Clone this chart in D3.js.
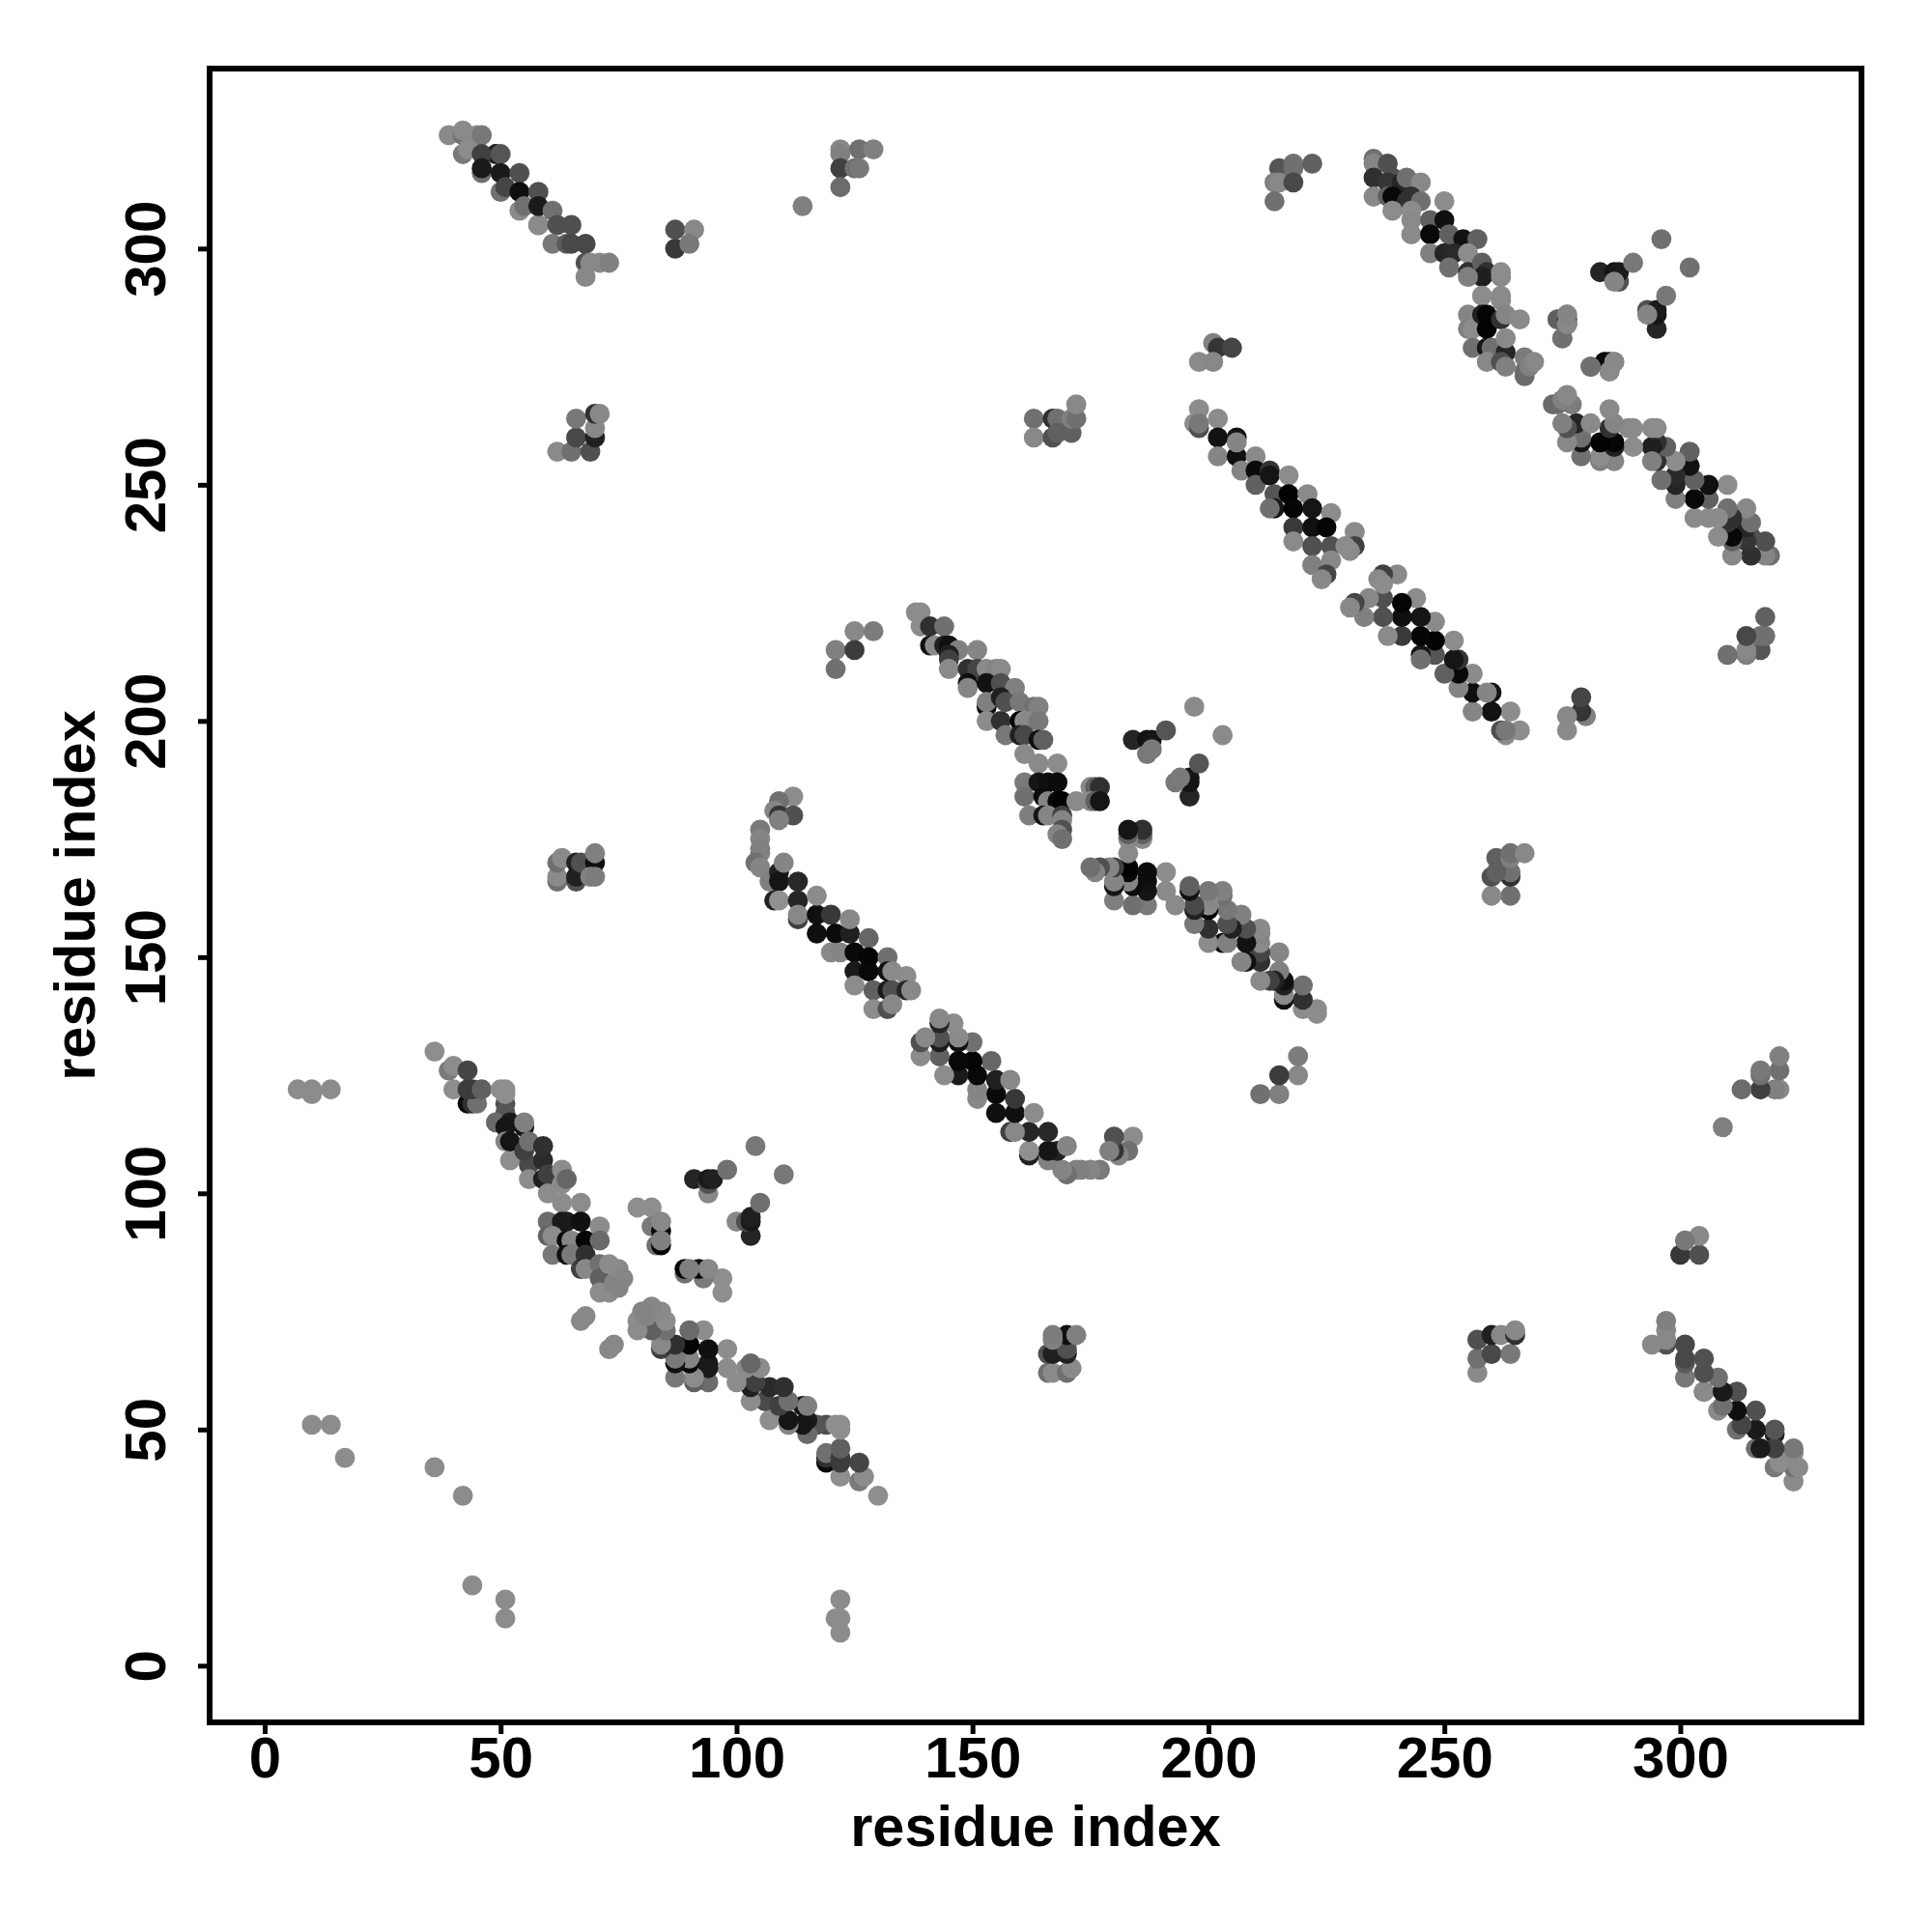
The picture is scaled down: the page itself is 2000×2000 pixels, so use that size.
<!DOCTYPE html>
<html><head><meta charset="utf-8">
<script src="https://cdn.jsdelivr.net/npm/d3@7"></script>
<style>html,body{margin:0;padding:0;background:#fff}svg{display:block}</style>
</head><body><div id="chart"></div>
<script>
// residue i, residue j (i<j), contact shade (grey level, 0x00 strongest)
const strandA=[[36,130,0x8e],[39,126,0x7a],[40,127,0x8c],[43,126,0x45],[40,122,0x8e],[43,119,0x0a],[44,119,0x30],[45,119,0x70],[43,122,0x3c],[44,122,0x3c],[46,122,0x60],[51,119,0x50],[51,117,0x55],[49,115,0x6a],[52,115,0x1a],[51,114,0x15],[55,114,0x15],[55,115,0x80],[50,122,0x8e],[51,122,0x8e],[51,121,0x8e],[52,107,0x8e],[51,111,0x85],[52,111,0x15],[56,106,0x4a],[59,107,0x2a],[55,109,0x40],[56,111,0x70],[59,110,0x30],[56,103,0x8c],[59,103,0x1f],[60,104,0x40],[63,105,0x8c],[63,102,0x8a],[64,103,0x66],[60,100,0x8c],[63,98,0x8c],[67,98,0x8c],[60,94,0x6c],[63,94,0x1a],[64,94,0x1a],[67,94,0x10],[71,93,0x8c],[60,91,0x60],[61,91,0x8c],[64,90,0x08],[65,90,0x85],[68,90,0x05],[71,90,0x6a],[61,87,0x78],[64,87,0x10],[65,87,0x7a],[68,87,0x30],[67,84,0x40],[68,85,0x30],[68,84,0x88],[71,85,0x70],[71,82,0x60],[71,79,0x8c],[73,85,0x8c],[73,79,0x8c],[74,81,0x84],[75,84,0x8a],[76,82,0x86],[75,80,0x84],[67,73,0x88],[68,74,0x88]];
const crossA=[[79,97,0x8e],[82,97,0x8e],[82,93,0x7a],[84,92,0x08],[84,94,0x88],[83,89,0x70],[84,89,0x05],[84,90,0x80],[91,103,0x25],[94,100,0x88],[94,102,0x50],[94,103,0x1a],[95,103,0x20],[98,105,0x70],[104,110,0x78]];
const strandB=[[112,184,0x8c],[109,183,0x70],[108,181,0x85],[109,180,0x35],[112,180,0x50],[109,179,0x80],[105,177,0x7a],[105,175,0x85],[105,173,0x80],[105,172,0x80],[104,170,0x70],[105,169,0x85],[107,166,0x80],[109,168,0x20],[109,166,0x15],[113,166,0x28],[110,170,0x85],[108,162,0x20],[109,162,0x90],[113,162,0x25],[113,158,0x40],[113,159,0x88],[117,159,0x10],[117,155,0x10],[117,163,0x8c],[120,159,0x38],[121,155,0x0a],[124,155,0x20],[124,158,0x88],[120,151,0x88],[122,151,0x85],[125,151,0x08],[128,154,0x66],[128,150,0x05],[125,147,0x1a],[128,147,0x08],[132,150,0x70],[132,147,0x10],[133,147,0x8a],[136,146,0x8c],[125,144,0x8c],[129,143,0x60],[132,143,0x1a],[133,143,0x50],[136,143,0x25],[137,143,0x88],[129,139,0x8c],[132,139,0x50],[133,140,0x88]];
const strandC=[[138,223,0x8c],[139,223,0x8c],[139,220,0x8c],[141,220,0x30],[144,220,0x70],[141,216,0x10],[142,216,0x8a],[144,216,0x20],[145,216,0x10],[147,215,0x80],[151,215,0x85],[145,214,0x20],[145,213,0x40],[145,211,0x8a],[149,211,0x30],[151,211,0x45],[153,211,0x8a],[155,211,0x85],[156,211,0x8a],[149,208,0x10],[149,207,0x85],[153,208,0x12],[156,208,0x50],[159,207,0x80],[153,203,0x0a],[153,204,0x80],[156,205,0x20],[157,204,0x50],[160,204,0x78],[163,203,0x70],[164,203,0x80],[153,200,0x8c],[156,200,0x30],[160,200,0x05],[161,200,0x8c],[162,200,0x88],[164,200,0x78],[157,197,0x78],[160,197,0x20],[161,197,0x48],[164,196,0x10],[165,196,0x60],[161,193,0x8a],[164,191,0x8a],[168,191,0x8c],[161,187,0x7a],[161,184,0x70],[164,187,0x15],[166,187,0x10],[168,187,0x0c],[165,184,0x0c],[166,183,0x85],[168,183,0x0a],[169,183,0x02],[172,183,0x8a],[162,180,0x7e],[165,180,0x15],[166,180,0x85],[169,180,0x40],[169,179,0x85],[169,177,0x50],[168,176,0x85],[169,175,0x70],[175,186,0x8a],[176,186,0x60],[177,186,0x30],[175,183,0x8a],[176,183,0x60],[177,183,0x15]];
const crossC=[[197,203,0x8a],[184,196,0x25],[187,196,0x12],[188,196,0x15],[191,198,0x55],[187,193,0x78],[188,194,0x7a]];
const strandD=[[198,266,0x8c],[197,263,0x8c],[198,262,0x50],[198,263,0x78],[202,264,0x8c],[202,260,0x12],[206,260,0x15],[202,256,0x85],[206,256,0x10],[206,259,0x85],[207,253,0x85],[210,256,0x8a],[210,253,0x0a],[210,250,0x60],[213,253,0x35],[213,252,0x15],[217,252,0x8c],[214,248,0x55],[214,245,0x15],[213,245,0x70],[217,248,0x02],[218,245,0x05],[221,248,0x8a],[222,245,0x15],[226,244,0x8c],[218,241,0x3a],[218,238,0x8a],[222,241,0x10],[225,241,0x05],[222,237,0x50],[226,237,0x50],[231,240,0x8a],[231,237,0x40],[230,236,0x8a],[229,237,0x8c],[222,233,0x80],[226,234,0x88],[225,231,0x45],[224,230,0x88]];
const strandE=[[235,319,0x70],[235,318,0x85],[238,318,0x50],[235,315,0x30],[235,311,0x88],[239,315,0x50],[238,314,0x35],[241,314,0x25],[242,315,0x70],[245,314,0x88],[238,311,0x60],[239,311,0x08],[243,311,0x30],[242,310,0x30],[245,310,0x70],[239,308,0x8c],[243,308,0x8c],[243,306,0x8a],[243,303,0x8a],[250,310,0x8c],[247,306,0x60],[250,306,0x10],[247,303,0x08],[251,303,0x60],[254,302,0x12],[257,302,0x60],[247,299,0x80],[250,299,0x25],[252,299,0x2a],[255,299,0x8c],[251,296,0x70],[255,295,0x30],[258,297,0x60],[259,295,0x30],[258,294,0x1f],[255,294,0x80],[262,294,0x8a],[262,295,0x8c],[258,290,0x8c],[262,289,0x8a],[262,290,0x8a],[255,286,0x85],[255,283,0x80],[256,283,0x8c],[258,286,0x20],[259,286,0x05],[259,283,0x02],[262,285,0x30],[263,286,0x85],[266,285,0x8a],[256,279,0x70],[259,279,0x15],[260,279,0x70],[259,276,0x88],[263,278,0x25],[263,281,0x8a],[262,276,0x50],[263,275,0x80],[267,277,0x7c],[267,274,0x70],[267,273,0x6a],[268,275,0x80],[269,276,0x88]];
const crossE=[[283,295,0x25],[286,295,0x15],[287,293,0x50],[287,295,0x1a],[286,293,0x85],[290,297,0x78],[296,302,0x70],[276,284,0x08],[276,286,0x88],[274,285,0x8a],[275,281,0x70],[281,275,0x70],[285,274,0x60],[285,276,0x10],[284,276,0x88],[286,276,0x85]];
const sheetF=[[39,324,0x8a],[42,324,0x70],[42,325,0x8a],[42,320,0x78],[45,324,0x8a],[46,324,0x78],[43,321,0x8c],[49,320,0x1f],[46,320,0x40],[50,320,0x55],[46,316,0x70],[46,317,0x1a],[50,316,0x1a],[50,312,0x70],[51,313,0x45],[54,316,0x50],[54,312,0x0f],[54,308,0x8a],[55,309,0x70],[58,312,0x50],[58,305,0x3a],[58,305,0x8a],[58,309,0x1a],[61,308,0x70],[62,305,0x50],[65,305,0x50],[61,301,0x78],[64,301,0x5a],[65,301,0x48],[68,301,0x48],[68,297,0x50],[69,297,0x88],[71,297,0x88],[73,297,0x80],[68,294,0x88],[87,300,0x38],[87,304,0x50],[91,304,0x88],[90,301,0x78]];
const islands=[[62,257,0x8a],[65,257,0x70],[69,257,0x50],[66,260,0x48],[70,260,0x20],[70,262,0x88],[66,264,0x78],[70,265,0x30],[71,265,0x88],[163,264,0x70],[163,260,0x88],[167,264,0x30],[168,264,0x70],[167,260,0x50],[168,261,0x60],[171,261,0x60],[171,264,0x80],[172,264,0x70],[172,267,0x88],[62,166,0x70],[62,167,0x8a],[62,170,0x70],[63,171,0x8a],[66,166,0x50],[66,167,0x20],[66,170,0x20],[67,170,0x50],[70,170,0x10],[70,172,0x80],[69,167,0x80],[70,167,0x7c],[125,219,0x88],[129,219,0x7c],[121,215,0x80],[125,215,0x3c],[121,211,0x70],[122,321,0x88],[122,320,0x80],[126,321,0x70],[129,321,0x80],[122,317,0x40],[125,317,0x70],[126,317,0x78],[122,313,0x6c],[114,309,0x80],[215,317,0x55],[218,318,0x70],[218,317,0x70],[222,318,0x60],[214,314,0x80],[215,314,0x88],[218,314,0x48],[214,310,0x70],[201,280,0x80],[202,279,0x35],[205,279,0x45],[198,276,0x8a],[201,276,0x88]];
const strays=[[7,122,0x8c],[10,122,0x8c],[10,121,0x8c],[14,122,0x8c],[10,51,0x8c],[14,51,0x8c],[17,44,0x8c],[36,42,0x8c]];

const xTicks=[0,50,100,150,200,250,300], yTicks=[0,50,100,150,200,250,300];
const xTitle="residue index", yTitle="residue index";
const frame={l:217,r:1927,t:71,b:1783};

const halves=[...strandA,...crossA,...strandB,...strandC,...crossC,...strandD,...strandE,...crossE,...sheetF,...islands,...strays];
const contacts=[...halves,...halves.map(d=>[d[1],d[0],d[2]])];

const x=d3.scaleLinear().domain([-11.67,338.4]).range([frame.l,frame.r]);
const y=d3.scaleLinear().domain([-12,338.1]).range([frame.b,frame.t]);
const shade=d3.scaleLinear().domain([0,255]).range(["#000000","#ffffff"]);

const svg=d3.select("#chart").append("svg").attr("width",2000).attr("height",2000).style("background","#fff");
svg.append("g").selectAll("circle").data(contacts).join("circle")
  .attr("cx",d=>x(d[0])).attr("cy",d=>y(d[1])).attr("r",10.4).attr("fill",d=>shade(d[2]));
svg.append("rect").attr("x",frame.l).attr("y",frame.t).attr("width",frame.r-frame.l).attr("height",frame.b-frame.t)
  .attr("fill","none").attr("stroke","#000").attr("stroke-width",6);

const font='"Liberation Sans",Arial,sans-serif';
function style(g){
  g.select(".domain").remove();
  g.selectAll(".tick line").attr("stroke","#000").attr("stroke-width",5);
  g.selectAll("text").attr("fill","#000").style("font-family",font).style("font-weight","bold").style("font-size","60px");
}
const gx=svg.append("g").attr("transform",`translate(0,${frame.b})`)
  .call(d3.axisBottom(x).tickValues(xTicks).tickSize(12).tickPadding(2).tickFormat(d3.format("d"))).call(style);
const gy=svg.append("g").attr("transform",`translate(${frame.l},0)`)
  .call(d3.axisLeft(y).tickValues(yTicks).tickSize(12).tickPadding(12).tickFormat(d3.format("d"))).call(style);
gy.selectAll(".tick text").attr("x",null).attr("dy",null).attr("text-anchor","middle")
  .attr("transform","translate(-46,0) rotate(-90)");
svg.append("text").text(xTitle).attr("x",(frame.l+frame.r)/2).attr("y",1911).attr("text-anchor","middle")
  .style("font-family",font).style("font-weight","bold").style("font-size","59.5px");
svg.append("text").text(yTitle).attr("transform",`translate(98,${(frame.t+frame.b)/2}) rotate(-90)`).attr("text-anchor","middle")
  .style("font-family",font).style("font-weight","bold").style("font-size","59.5px");
</script></body></html>
